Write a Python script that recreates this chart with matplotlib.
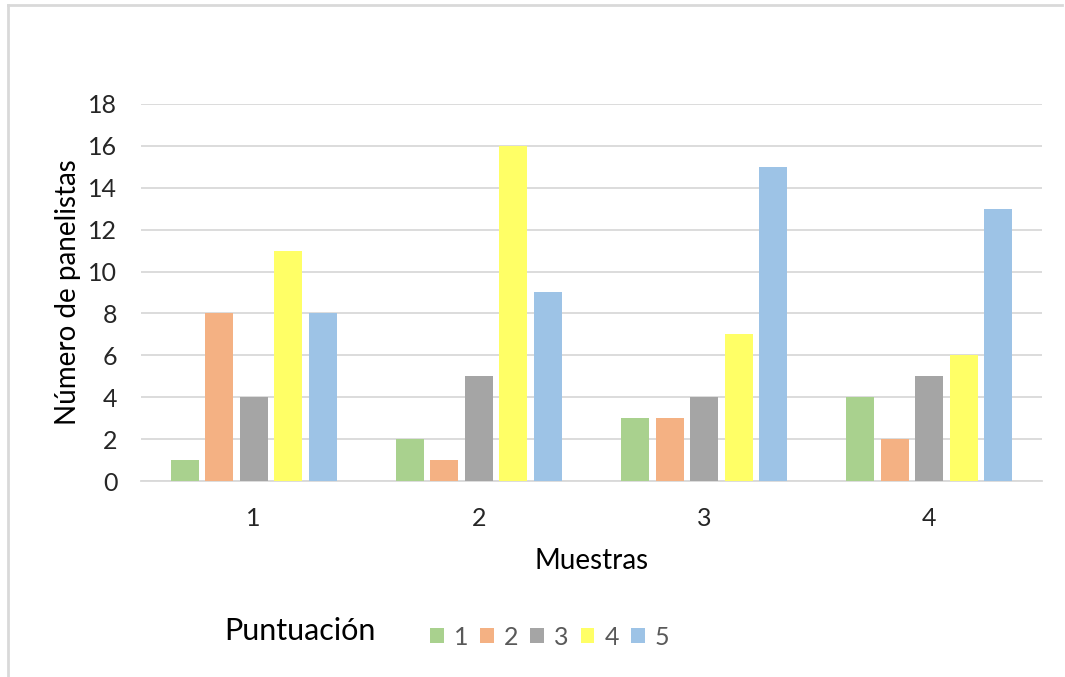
import matplotlib
matplotlib.use("Agg")
import matplotlib.pyplot as plt
from matplotlib.patches import Patch
import numpy as np

plt.rcParams['font.family'] = ['Lato', 'DejaVu Sans']

samples = ["1", "2", "3", "4"]
scores = ["1", "2", "3", "4", "5"]
counts = {
    "1": [1, 2, 3, 4],
    "2": [8, 1, 3, 2],
    "3": [4, 5, 4, 5],
    "4": [11, 16, 7, 6],
    "5": [8, 9, 15, 13],
}
colors = ["#A9D18E", "#F4B183", "#A5A5A5", "#FFFF66", "#9DC3E6"]
yticks = [0, 2, 4, 6, 8, 10, 12, 14, 16, 18]

fig = plt.figure(figsize=(10.65, 6.77), dpi=100)
ax = fig.add_axes([0.1324, 0.2895, 0.8460, 0.5569])

x = np.arange(len(samples))
pitch = 0.153
width = 0.124
for i, (s, c) in enumerate(zip(scores, colors)):
    offs = (i - 2) * pitch
    ax.bar(x + offs, counts[s], width=width, color=c, zorder=3)

ax.set_xlim(-0.5, len(samples) - 0.5)
ax.set_ylim(0, 18)
ax.set_yticks(yticks)
ax.set_xticks(x)
ax.set_xticklabels(samples)
ax.yaxis.grid(True, color="#D9D9D9", linewidth=1.3, zorder=0)
ax.set_axisbelow(True)
for side in ["top", "right", "left"]:
    ax.spines[side].set_visible(False)
ax.spines["bottom"].set_color("#D9D9D9")
ax.spines["bottom"].set_linewidth(1.3)
ax.tick_params(axis="both", length=0, labelsize=18, colors="#262626")
ax.tick_params(axis="y", pad=17)
ax.tick_params(axis="x", pad=19)

ax.set_ylabel("Número de panelistas", fontsize=20, color="#000000", labelpad=5)
ax.set_xlabel("Muestras", fontsize=20, color="#000000", labelpad=13)

fig.text(0.211, 0.068, "Puntuación", fontsize=22, color="#000000", va="center", ha="left")
handles = [Patch(facecolor=c, edgecolor="none") for c in colors]
leg = fig.legend(handles, scores, loc="center left", bbox_to_anchor=(0.392, 0.059),
                 ncol=5, frameon=False, fontsize=18, handlelength=0.55, handleheight=0.55,
                 handletextpad=0.4, columnspacing=0.48, borderpad=0)
for t in leg.get_texts():
    t.set_color("#595959")

# light frame at the top and left edges
fig.add_artist(plt.Line2D([0.0075, 0.0075], [0.0, 0.992], transform=fig.transFigure,
                          color="#D9D9D9", linewidth=2))
fig.add_artist(plt.Line2D([0.0075, 0.997], [0.992, 0.992], transform=fig.transFigure,
                          color="#D9D9D9", linewidth=2))

fig.savefig("out.png", dpi=100)
